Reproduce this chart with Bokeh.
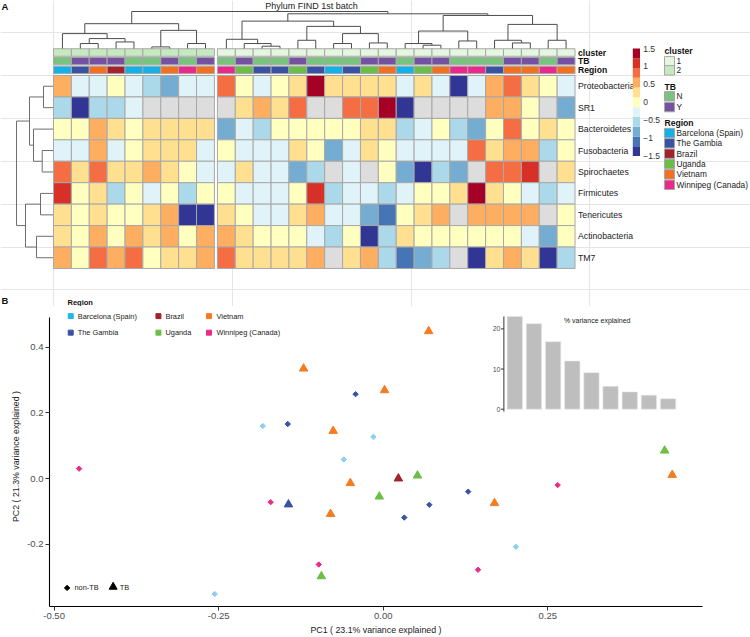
import numpy as np
from bokeh.plotting import figure
from bokeh.models import Range1d, FixedTicker, NumeralTickFormatter, ColumnDataSource
from bokeh.models import CDSView, GroupFilter
from bokeh.transform import linear_cmap, factor_cmap
from bokeh.embed import file_html
from bokeh.resources import INLINE
from bokeh.core.properties import value

FONT = "Liberation Sans"
NAN = float("nan")

# ------------------------------------------------------------------ data: panel A
phyla = ["Proteobacteria", "SR1", "Bacteroidetes", "Fusobacteria", "Spirochaetes",
         "Firmicutes", "Tenericutes", "Actinobacteria", "TM7"]

proteobacteria = [0.55, -0.27, -0.27, 0.0, -0.27, -0.55, -0.82, -0.27, -0.27,
                  0.82, 0.0, -0.27, 0.0, 0.27, 1.36, 0.27, 0.27, 0.27, 0.27,
                  -0.27, 0.27, -0.27, -1.36, -0.27, 0.55, 0.82, 0.27, 0.0, -0.27]
sr1 = [-0.55, -1.36, -0.55, -0.55, -0.27, NAN, NAN, NAN, NAN,
       NAN, 0.27, 0.55, 0.27, 0.82, NAN, NAN, 0.82, 0.82, 1.36,
       -1.36, NAN, NAN, NAN, NAN, 0.55, 0.55, 0.0, NAN, -0.82]
bacteroidetes = [0.0, 0.0, 0.55, 0.27, 0.0, 0.27, 0.27, 0.27, 0.27,
                 -0.82, -0.27, -0.55, 0.0, 0.0, 0.0, 0.0, 0.0, 0.27, 0.27,
                 -0.55, -0.27, 0.0, -0.55, -0.82, 0.0, 0.82, 0.0, 0.27, 0.0]
fusobacteria = [-0.27, -0.27, 0.55, -0.27, 0.0, 0.27, 0.27, 0.27, -0.27,
                0.0, -0.27, -0.27, -0.27, 0.27, 0.0, -0.82, -0.27, 0.27, 0.0,
                -0.27, -0.27, -0.27, -0.27, 0.82, 0.27, 0.55, 0.55, -0.55, 0.0]
spirochaetes = [0.82, 0.27, 0.82, 0.27, 0.27, 0.55, 0.27, 0.0, -0.27,
                -0.27, 0.27, -0.27, -0.27, -0.82, -0.55, NAN, -0.27, NAN, 0.0,
                -0.82, -1.36, -0.55, -0.82, NAN, 0.82, 0.82, 1.09, NAN, 0.27]
firmicutes = [1.09, 0.0, 0.27, -0.55, 0.0, -0.27, 0.0, -0.55, 0.0,
              0.0, -0.27, -0.27, -0.27, 0.0, 1.09, -0.55, -0.27, -0.27, -0.55,
              -0.27, 0.0, 0.0, 0.27, 1.36, 0.27, 0.0, -0.27, -0.55, -0.27]
tenericutes = [0.27, 0.0, 0.27, 0.0, 0.0, 0.27, 0.55, -1.36, -1.36,
               0.27, 0.0, -0.27, -0.27, 0.27, 0.55, -0.27, -0.27, -0.82, -1.09,
               0.0, 0.27, 0.55, NAN, 0.55, 0.55, 0.55, 0.55, NAN, 0.0]
actinobacteria = [0.27, 0.0, 0.55, 0.0, 0.55, 0.27, 0.55, 0.0, 0.55,
                  0.55, 0.27, 0.0, 0.0, 0.0, -0.27, -0.55, 0.0, -1.36, -0.55,
                  0.27, 0.0, 0.0, 0.0, 0.0, 0.0, 0.0, -0.27, -0.82, 0.0]
tm7 = [0.55, 0.0, 0.82, 0.55, 0.82, 0.0, 0.27, 0.27, 0.55,
       0.82, 0.27, 0.27, 0.27, 0.27, 0.55, NAN, 0.27, 0.55, -0.55,
       -1.09, -0.82, -0.55, NAN, -1.36, 0.27, 0.55, 0.27, -1.36, -0.55]
heat_rows = [proteobacteria, sr1, bacteroidetes, fusobacteria, spirochaetes,
             firmicutes, tenericutes, actinobacteria, tm7]

cluster = ["2"] * 9 + ["1"] * 20
tb_status = ["N", "Y", "Y", "Y", "N", "N", "Y", "N", "Y",
             "N", "Y", "N", "N", "Y", "N", "N", "N", "Y", "Y",
             "N", "Y", "Y", "N", "N", "N", "Y", "Y", "N", "Y"]
BAR, GAM, BRA, UGA, VIE, WIN = ("Barcelona (Spain)", "The Gambia", "Brazil",
                                "Uganda", "Vietnam", "Winnipeg (Canada)")
regions_order = [BAR, GAM, BRA, UGA, VIE, WIN]
col_region = [BAR, GAM, VIE, BRA, BAR, BAR, VIE, WIN, VIE,
              WIN, UGA, GAM, GAM, UGA, GAM, BAR, GAM, UGA, VIE,
              BAR, UGA, VIE, WIN, WIN, GAM, VIE, VIE, WIN, VIE]

# hierarchical clustering (hclust style: negative = leaf, positive = earlier merge)
col_merge = [(-2, -3), (-4, -5), (1, 2), (-1, 3), (-6, -7), (-8, -9), (5, 6), (4, 7),
             (-12, -13), (-11, 9), (-10, 10), (-14, -15), (-16, -17), (-18, -19),
             (13, 14), (12, 15), (11, 16), (-21, -22), (-20, 18), (-23, -24),
             (19, 20), (-26, -27), (-25, 22), (-28, -29), (23, 24), (21, 25),
             (17, 26), (8, 27)]
col_height = [5.0, 6.6, 10.0, 15.0, 1.6, 5.0, 18.3, 25.0, 2.3, 5.0, 9.3, 8.3, 5.0,
              5.6, 15.0, 22.3, 27.6, 3.3, 5.0, 7.6, 17.6, 5.6, 8.3, 8.3, 24.3,
              33.3, 35.0, 37.3]
row_merge = [(-1, -2), (-4, -5), (-3, 2), (1, 3), (-6, -7), (-8, -9), (5, 6), (4, 7)]
row_height = [9.5, 10.8, 19.5, 23.5, 12.5, 16.5, 27.5, 36.5]

heat_palette = ["#313695", "#4575B4", "#74ADD1", "#ABD9E9", "#E0F3F8", "#FFFFBF",
                "#FEE090", "#FDAE61", "#F46D43", "#D73027", "#A50026"]
scale_ticks = [1.5, 1.0, 0.5, 0.0, -0.5, -1.0, -1.5]
scale_labels = ["1.5", "1", "0.5", "0", "\u22120.5", "\u22121", "\u22121.5"]
cluster_levels = ["1", "2"]
cluster_colors = ["#E5F5E0", "#C7E9C0"]
tb_levels = ["N", "Y"]
tb_colors = ["#78C47F", "#7551A1"]
region_heat_colors = ["#12B2E8", "#3953A4", "#A3222E", "#6ABD45", "#F37021", "#EA2A8B"]

# ------------------------------------------------------------------ data: panel B
pc1 = [0.069, -0.121, -0.042, 0.002, -0.183, -0.145, -0.076, -0.015, -0.060, 0.023,
       0.052, -0.050, -0.006, 0.129, -0.171, -0.144, 0.070, -0.080, 0.032, -0.098,
       -0.094, -0.256, -0.462, 0.2015, 0.144, 0.265, 0.169, 0.439, 0.4275]
pc2 = [0.449, 0.335, 0.257, 0.269, 0.160, 0.166, 0.145, 0.127, 0.058, 0.000,
       0.009, -0.014, -0.055, -0.040, -0.072, -0.079, -0.080, -0.108, -0.119, -0.262,
       -0.298, -0.352, 0.030, -0.208, -0.278, -0.020, -0.075, 0.011, 0.085]
pt_region = [VIE, VIE, GAM, VIE, BAR, GAM, VIE, BAR, BAR, BRA,
             UGA, VIE, UGA, GAM, WIN, GAM, GAM, VIE, GAM, WIN,
             UGA, BAR, WIN, BAR, WIN, WIN, VIE, VIE, UGA]
pt_tb = ["Y", "Y", "N", "Y", "N", "N", "Y", "N", "N", "Y",
         "Y", "Y", "Y", "N", "N", "Y", "N", "Y", "N", "N",
         "Y", "N", "N", "N", "N", "N", "Y", "Y", "Y"]
pc_var = [23.1, 21.3, 16.8, 12.0, 9.1, 5.7, 4.3, 3.5, 2.6]
region_point_colors = ["#8CCFF0", "#3953A4", "#A3222E", "#6CBE45", "#F47B20", "#EA2A8B"]
region_key_colors = ["#22B5EA", "#3953A4", "#A3222E", "#6CBE45", "#F47B20", "#EA2A8B"]
x_ticks = [-0.5, -0.25, 0.0, 0.25]
y_ticks = [-0.2, 0.0, 0.2, 0.4]
inset_ticks = [0, 10, 20]


def dendro_segments(merge, heights, leaf_pos):
    pos, hgt = {}, {}
    for i, p in enumerate(leaf_pos):
        pos[-(i + 1)] = p
        hgt[-(i + 1)] = 0.0
    p0, h0, p1, h1 = [], [], [], []
    for k, (a, b) in enumerate(merge, start=1):
        h = heights[k - 1]
        for c in (a, b):
            p0.append(pos[c]); h0.append(hgt[c]); p1.append(pos[c]); h1.append(h)
        p0.append(pos[a]); h0.append(h); p1.append(pos[b]); h1.append(h)
        pos[k] = (pos[a] + pos[b]) / 2.0
        hgt[k] = h
    return p0, h0, p1, h1


# ================================================================== panel A
W = 750
HA = 306
CW = 17.88        # px per column
RH = 21.44        # px per row
LEFT = 53         # heatmap left edge (px)
TOP = 75          # heatmap top edge (px)


def X(px):  # page px -> panel A x units
    return (px - LEFT) / CW


def Y(py):
    return (py - TOP) / RH


pA = figure(width=W, height=HA, x_range=Range1d(-LEFT / CW, (W - LEFT) / CW),
            y_range=Range1d((HA - TOP) / RH, -TOP / RH), output_backend="svg",
            toolbar_location=None, min_border=0, x_axis_location=None,
            y_axis_location=None, title=None)
pA.outline_line_color = None

GAP = 3.0 / CW
col_x = [i + 0.5 + (GAP if c != cluster[0] else 0.0) for i, c in enumerate(cluster)]
row_y = [r + 0.5 for r in range(len(phyla))]

xs, ys, vs = [], [], []
for r, row in enumerate(heat_rows):
    for c, v in enumerate(row):
        xs.append(col_x[c]); ys.append(row_y[r]); vs.append(v)
hsrc = ColumnDataSource(dict(x=xs, y=ys, v=np.array(vs, dtype=float)))
pA.rect("x", "y", 1, 1, source=hsrc,
        fill_color=linear_cmap("v", heat_palette, -1.5, 1.5, nan_color="#DDDDDD"),
        line_color="#A8A8A8", line_width=1)

ANN_H = 7.5 / RH
ann_src = ColumnDataSource(dict(x=col_x, cl=cluster, tb=tb_status, rg=col_region))
pA.rect("x", Y(52.0), 1, ANN_H, source=ann_src,
        fill_color=factor_cmap("cl", cluster_colors, cluster_levels),
        line_color="#A8A8A8", line_width=1)
pA.rect("x", Y(60.6), 1, ANN_H, source=ann_src,
        fill_color=factor_cmap("tb", tb_colors, tb_levels),
        line_color="#A8A8A8", line_width=1)
pA.rect("x", Y(69.4), 1, ANN_H, source=ann_src,
        fill_color=factor_cmap("rg", region_heat_colors, regions_order),
        line_color="#A8A8A8", line_width=1)

x_right = col_x[-1] + 0.5
pA.text(x=[x_right] * len(phyla), y=row_y, text=phyla, x_offset=3,
        text_baseline="middle", text_align="left", text_font=value(FONT),
        text_font_size="8.7px", text_color="#222222")
pA.text(x=[x_right] * 3, y=[Y(52.0), Y(60.6), Y(69.4)], text=["cluster", "TB", "Region"],
        x_offset=3, text_baseline="middle", text_align="left", text_font=value(FONT),
        text_font_size="8.6px", text_font_style="bold", text_color="#111111")

# dendrograms
cp0, ch0, cp1, ch1 = dendro_segments(col_merge, col_height, col_x)
cd = pA.subplot(x_source=Range1d(0, 1), x_target=Range1d(0, 1),
                y_source=Range1d(0, max(col_height)), y_target=Range1d(Y(48.0), Y(11.0)))
cd.segment(x0=cp0, y0=ch0, x1=cp1, y1=ch1, line_color="#4D4D4D", line_width=1)

rp0, rh0, rp1, rh1 = dendro_segments(row_merge, row_height, row_y)
rd = pA.subplot(x_source=Range1d(0, max(row_height)), x_target=Range1d(X(52.5), X(16.0)),
                y_source=Range1d(0, 1), y_target=Range1d(0, 1))
rd.segment(x0=rh0, y0=rp0, x1=rh1, y1=rp1, line_color="#6E6E6E", line_width=1)

# colour scale
cb = pA.subplot(x_source=Range1d(0, 1), x_target=Range1d(0, 1),
                y_source=Range1d(-1.5, 1.5), y_target=Range1d(Y(155.5), Y(48.0)))
nb = len(heat_palette)
step = 3.0 / nb
cb.quad(left=X(632.3), right=X(639.5), bottom=[-1.5 + i * step for i in range(nb)],
        top=[-1.5 + (i + 1) * step for i in range(nb)], fill_color=heat_palette,
        line_color=None)
cb.text(x=[X(642.7)] * len(scale_ticks), y=scale_ticks, text=scale_labels,
        text_baseline="middle", text_align="left", text_font=value(FONT),
        text_font_size="8.5px", text_color="#333333")

# annotation legend
leg_titles = ["cluster", "TB", "Region"]
leg_title_y = [50.6, 86.0, 122.6]
pA.text(x=[X(664)] * 3, y=[Y(v) for v in leg_title_y], text=leg_titles,
        text_baseline="middle", text_align="left", text_font=value(FONT),
        text_font_size="8.6px", text_font_style="bold", text_color="#111111")
leg_labels = cluster_levels + tb_levels + regions_order
leg_colors = cluster_colors + tb_colors + region_heat_colors
leg_y = [60.8, 69.9, 95.8, 106.6, 132.5, 142.8, 153.2, 163.6, 173.9, 184.3]
pA.rect(x=[X(669)] * len(leg_y), y=[Y(v) for v in leg_y], width=10 / CW,
        height=9.4 / RH, fill_color=leg_colors, line_color="#A8A8A8", line_width=1)
pA.text(x=[X(676)] * len(leg_y), y=[Y(v) for v in leg_y], text=leg_labels,
        text_baseline="middle", text_align="left", text_font=value(FONT),
        text_font_size="8.3px", text_color="#222222")

# headings
pA.text(x=[X(311)], y=[Y(0.5)], text=["Phylum FIND 1st batch"], text_align="center",
        text_baseline="top", text_font=value(FONT), text_font_size="9px",
        text_color="#222222")
pA.text(x=[X(1)], y=[Y(0.5)], text=["A"], text_align="left",
        text_baseline="top", text_font=value(FONT), text_font_size="9.5px",
        text_font_style="bold", text_color="#111111")
pA.text(x=[X(1)], y=[Y(300)], text=["B"], text_align="left",
        text_baseline="middle", text_font=value(FONT), text_font_size="9.5px",
        text_font_style="bold", text_color="#111111")
pA.text(x=[X(67)], y=[Y(301.5)], text=["Region"], text_align="left",
        text_baseline="middle", text_font=value(FONT), text_font_size="7.5px",
        text_font_style="bold", text_color="#111111")

# ================================================================== panel B
HB = 637 - HA
YTOP = 0.5242
YBOT = -0.39
pB = figure(width=W, height=HB, x_range=Range1d(-0.507, 0.485),
            y_range=Range1d(YBOT, YTOP), output_backend="svg", toolbar_location=None,
            title=None, min_border_left=49, min_border_right=48, min_border_top=0,
            min_border_bottom=29)
pB.outline_line_color = None
pB.xgrid.visible = False
pB.ygrid.visible = False
pB.xaxis.ticker = FixedTicker(ticks=x_ticks)
pB.xaxis.formatter = NumeralTickFormatter(format="0.00")
pB.yaxis.ticker = FixedTicker(ticks=y_ticks)
pB.yaxis.formatter = NumeralTickFormatter(format="0.0")
pB.yaxis.bounds = (YBOT, 0.49)
pB.xaxis.axis_label = "PC1 ( %.1f%% variance explained )" % pc_var[0]
pB.yaxis.axis_label = "PC2 ( %.1f%% variance explained )" % pc_var[1]
for ax in (pB.xaxis[0], pB.yaxis[0]):
    ax.axis_line_color = "black"
    ax.axis_line_width = 1.1
    ax.major_tick_line_color = "#333333"
    ax.major_tick_out = 4
    ax.major_tick_in = 0
    ax.minor_tick_out = 0
    ax.minor_tick_in = 0
    ax.major_label_text_font = FONT
    ax.major_label_text_font_size = "9.5px"
    ax.major_label_text_color = "#4D4D4D"
    ax.major_label_standoff = 2
    ax.axis_label_text_font = FONT
    ax.axis_label_text_font_size = "8.8px"
    ax.axis_label_text_font_style = "normal"
    ax.axis_label_text_color = "#1A1A1A"
    ax.axis_label_standoff = 3


def BX(px):
    return (px - 382.7) / 658.0


def BY(py):
    return (479.0 - py) / 330.0


psrc = ColumnDataSource(dict(x=pc1, y=pc2, rg=pt_region, tb=pt_tb))
view_n = CDSView(filter=GroupFilter(column_name="tb", group="N"))
view_y = CDSView(filter=GroupFilter(column_name="tb", group="Y"))
pcol = factor_cmap("rg", region_point_colors, regions_order)
pB.scatter("x", "y", source=psrc, view=view_n, marker="square", size=3.8,
           angle=np.pi / 4, fill_color=pcol, line_color=pcol)
pB.scatter("x", "y", source=psrc, view=view_y, marker="triangle", size=8.5,
           fill_color=pcol, line_color=pcol)

# region key (3 columns x 2 rows)
key_sw_x = [70.3, 158.0, 208.5]
key_tx_x = [77.3, 165.0, 216.0]
key_row_y = [315.7, 332.3]
kx, ky, ktx = [], [], []
for i, rg in enumerate(regions_order):
    kx.append(BX(key_sw_x[i // 2])); ktx.append(BX(key_tx_x[i // 2]))
    ky.append(BY(key_row_y[i % 2]))
pB.scatter(x=kx, y=ky, marker="square", size=5, color=region_key_colors)
pB.text(x=ktx, y=ky, text=regions_order, text_baseline="middle", text_align="left",
        text_font=value(FONT), text_font_size="7.4px", text_color="#1A1A1A")

# shape key
pB.scatter(x=[BX(66.7)], y=[BY(589)], marker="square", size=3.8, angle=np.pi / 4,
           color="black")
pB.scatter(x=[BX(112.7)], y=[BY(588)], marker="triangle", size=8, color="black")
pB.text(x=[BX(74), BX(119.3)], y=[BY(589), BY(589)], text=["non-TB", "TB"],
        text_baseline="middle", text_align="left", text_font=value(FONT),
        text_font_size="7.4px", text_color="#1A1A1A")

# inset: % variance explained
ix = list(range(1, len(pc_var) + 1))
ins = pB.subplot(x_source=Range1d(0.43, 9.5), x_target=Range1d(BX(503.3), BX(677.0)),
                 y_source=Range1d(-0.6, 23.1), y_target=Range1d(BY(411.7), BY(316.0)))
ins.vbar(x=ix, top=pc_var, bottom=0, width=0.8, fill_color="#BEBEBE", line_color="#E8E8E8",
         line_width=0.6)
ins.segment(x0=[0.43], y0=[-0.6], x1=[0.43], y1=[23.1], line_color="#333333", line_width=1)
ins.segment(x0=[0.43] * 3, y0=inset_ticks, x1=[0.28] * 3, y1=inset_ticks,
            line_color="#333333", line_width=1)
ins.text(x=[0.25] * 3, y=inset_ticks, text=[str(t) for t in inset_ticks],
         text_align="right", text_baseline="middle", text_font=value(FONT),
         text_font_size="7px", text_color="#4D4D4D")
ins.text(x=[5.3], y=[22.0], text=["% variance explained"], text_align="center",
         text_baseline="middle", text_font=value(FONT), text_font_size="7px",
         text_color="#1A1A1A")

# two independent roots (stacked) so that their frames are not aligned to each other
open("out.html", "w").write(file_html([pA, pB], INLINE))
